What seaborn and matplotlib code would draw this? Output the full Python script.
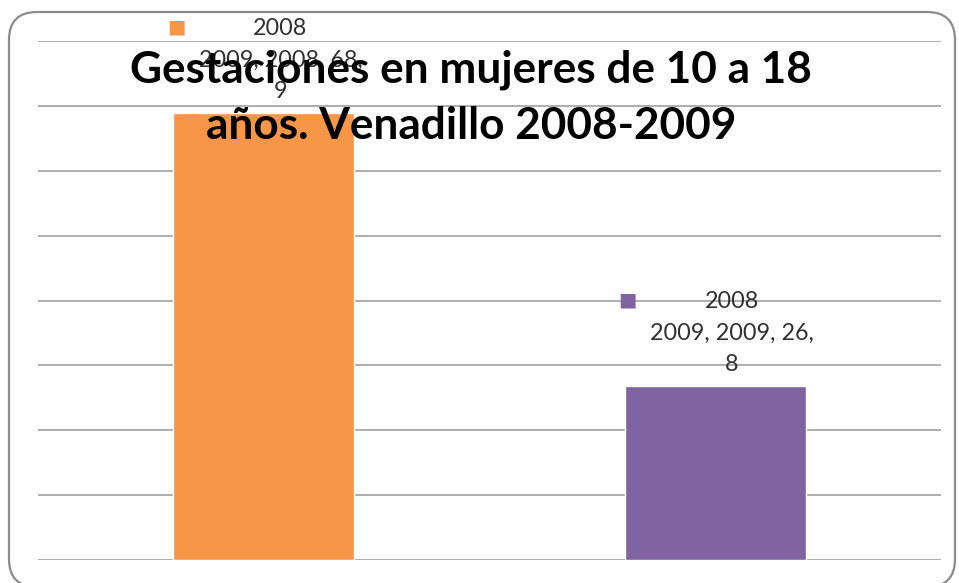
import matplotlib
matplotlib.use("Agg")
import matplotlib.pyplot as plt
import seaborn as sns
import pandas as pd
from matplotlib.patches import FancyBboxPatch

# ---- data ----
categories = ["2008", "2009"]
values = [68.9, 26.8]
series_name = ["2008", "2009"]
bar_colors = ["#F79646", "#8064A2"]
title_lines = ["Gestaciones en mujeres de 10 a 18", "años. Venadillo 2008-2009"]

df = pd.DataFrame({"year": categories, "value": values})

sns.set_theme(style="white")
plt.rcParams["font.family"] = ["Lato", "DejaVu Sans"]

W, H = 959, 583
fig = plt.figure(figsize=(W / 100, H / 100), dpi=100)
ax = fig.add_axes([38 / W, (H - 560) / H, (941 - 38) / W, (560 - 41) / H])

sns.barplot(data=df, x="year", y="value", hue="year", palette=bar_colors,
            width=0.4, legend=False, ax=ax, saturation=1, zorder=3)

ax.set_ylim(0, 80)
ax.set_yticks(range(0, 81, 10))
ax.set_xlim(-0.5, 1.5)
ax.yaxis.grid(True, color="#a0a0a0", linewidth=1.2)
ax.set_axisbelow(True)
for s in ax.spines.values():
    s.set_visible(False)
ax.set_xlabel("")
ax.set_ylabel("")
ax.set_xticklabels([])
ax.set_yticklabels([])
ax.tick_params(left=False, bottom=False)
ax.patch.set_alpha(0)

# data labels (series name, category, value with decimal comma)
for i, (cat, val, col) in enumerate(zip(categories, values, bar_colors)):
    ip, dp = f"{val:.1f}".split(".")
    lines = [series_name[0], f"{series_name[1]}, {cat}, {ip},", dp]
    ax.annotate("\n".join(lines), xy=(i, val), xytext=(12, 38),
                textcoords="offset points", ha="center", va="center",
                fontsize=16.8, color="#303030", linespacing=1.62, zorder=5,
                annotation_clip=False)
    ax.annotate("■", xy=(i, val), xytext=(-63, 62), textcoords="offset points",
                ha="center", va="center", fontsize=14, color=col,
                family="DejaVu Sans", zorder=5, annotation_clip=False)

# title
fig.text(471 / W, 1 - 70 / H, title_lines[0], ha="center", va="center",
         fontsize=31.8, fontweight="bold", color="black", zorder=10)
fig.text(471 / W, 1 - 126 / H, title_lines[1], ha="center", va="center",
         fontsize=31.8, fontweight="bold", color="black", zorder=10)

# rounded chart border
border = FancyBboxPatch((9 / 100, -4 / 100), (955 - 9) / 100, (583 + 4 - 12) / 100,
                        boxstyle="round,pad=0,rounding_size=0.28",
                        transform=fig.dpi_scale_trans, fill=False,
                        edgecolor="#8c8c8c", linewidth=1.6, clip_on=False)
fig.add_artist(border)

fig.savefig("out.png", dpi=100)
